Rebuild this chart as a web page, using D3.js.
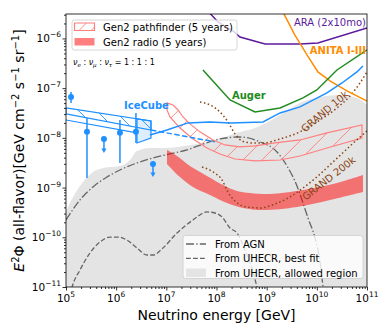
<!DOCTYPE html>
<html><head><meta charset="utf-8">
<script src="https://cdn.jsdelivr.net/npm/d3@7"></script>
<style>body{margin:0;background:#fff}text{font-family:"DejaVu Sans",sans-serif}</style>
</head><body><svg id="c" width="388" height="332"></svg>
<script>
// ---------------- data ----------------
const xDomain=[1e5,1e11];
const yDomain=[1e-11,3.1e-6];
const xMajor=[1e5,1e6,1e7,1e8,1e9,1e10,1e11];
const yMajor=[1e-11,1e-10,1e-9,1e-8,1e-7,1e-6];
const xTickExp=["5","6","7","8","9","10","11"];
const yTickExp=["−11","−10","−9","−8","−7","−6"];

const araE=[5.9e7,1.07e8,2.13e8,2.94e8,9.27e8,4.61e9,1.05e10,1e11];
const araFlux=[4.1e-6,2.15e-6,1.42e-6,1.07e-6,7.75e-7,7.75e-7,8.1e-7,1.63e-6];

const anitaE=[1.93e9,2.21e9,3.66e9,6.37e9,1.05e10,1.83e10,3.99e10,1e11];
const anitaFlux=[4.1e-6,3.11e-6,1.17e-6,4.66e-7,2.12e-7,1.4e-7,8.8e-8,5.5e-8];

const augerE=[5.38e7,8.13e7,1.86e8,5.85e8,1.85e9,5.3e9,1.0e10,2.52e10,1e11];
const augerFlux=[2.32e-7,1.46e-7,5.8e-8,3.32e-8,4.0e-8,6.35e-8,9.2e-8,2.32e-7,5.9e-7];

const icLimE=[4.72e6,1.03e7,2.70e7,7.41e7,1.86e8,8.45e8,1.85e9,4.61e9,1.59e10,3.17e10,6.31e10,8.31e10];
const icLimFlux=[1.14e-8,1.44e-8,2.0e-8,2.09e-8,2.0e-8,2.09e-8,3.17e-8,4.19e-8,8.0e-8,1.27e-7,2.12e-7,2.8e-7];

const icExtrapE=[4.94e6,9.33e7];
const icExtrapFlux=[1.44e-8,8.3e-9];

const icBandE=[1e5,4.94e6];
const icBandHi=[4.0e-8,2.19e-8];
const icBandMid=[3.03e-8,1.44e-8];
const icBandLoE=[1e5,2.6e6];
const icBandLo=[2.29e-8,1.26e-8];
const icBoxE=[2.6e6,4.94e6,4.94e6,2.6e6];
const icBoxFlux=[2.41e-8,2.19e-8,9.95e-9,7.9e-9];

const icPtE=[1.26e5,2.62e5,1.19e6,2.48e6];
const icPtFlux=[6.65e-8,1.32e-8,1.26e-8,1.32e-8];
const icPtHi=[8.4e-8,2.51e-8,2.29e-8,3.17e-8];
const icPtLo=[5.03e-8,1.56e-9,3.13e-9,7.9e-9];
const icUlE=[5.71e5,5.42e6];
const icUlFlux=[9.5e-9,2.99e-9];
const icUlEnd=[4.97e-9,1.63e-9];

const uhecrRegE=[1e5,1.38e5,2.18e5,3.45e5,5.46e5,1.19e6,1.89e6,2.6e6,4.72e6,9.4e6,2.96e7,1.02e8,2.56e8,5.85e8,1.16e9,2.32e9,4.61e9,1.16e10,2.89e10,6.31e10,1e11];
const uhecrRegFlux=[3.23e-10,6.47e-10,1.30e-9,2.06e-9,2.48e-9,2.72e-9,3.59e-9,5.45e-9,6.26e-9,6.26e-9,7.2e-9,9.07e-9,1.26e-8,1.58e-8,2.19e-8,3.32e-8,5.04e-8,6.65e-8,7.3e-8,6.35e-8,4.59e-8];

const agnE=[1e5,1.90e5,3.45e5,6.56e5,1.19e6,2.6e6,5.42e6,1.18e7,2.58e7,5.38e7,1.17e8,2.94e8,7.36e8,1.61e9,2.54e9,4.02e9,5.3e9,6.67e9,9.2e9,1.16e10,1.33e10,1.42e10];
const agnFlux=[2.23e-10,5.64e-10,1.03e-9,1.63e-9,2.26e-9,3.13e-9,3.94e-9,4.74e-9,5.71e-9,7.5e-9,9.5e-9,1.04e-8,8.3e-9,5.2e-9,2.72e-9,1.08e-9,4.9e-10,2.44e-10,9.7e-11,3.18e-11,1e-11,5.5e-12];

const bestFitE=[1.2e5,1.32e5,1.90e5,3.0e5,4.76e5,7.54e5,1.09e6,1.64e6,2.6e6,4.12e6,5.42e6,8.57e6,1.63e7,3.40e7,6.46e7,9.33e7,1.29e8,1.86e8,2.56e8,3.70e8,5.1e8,6.41e8,7.0e8];
const bestFitFlux=[6.9e-12,1e-11,2.2e-11,4.83e-11,8.04e-11,1.01e-10,1.01e-10,8.8e-11,6.1e-11,4.4e-11,4.4e-11,6.1e-11,1.22e-10,2.23e-10,3.23e-10,3.08e-10,2.56e-10,1.54e-10,1.22e-10,5.5e-11,2.4e-11,1e-11,7e-12];

const pfTopE=[1.03e7,1.36e7,1.71e7,2.15e7,2.96e7,4.69e7,8.51e7,1.48e8,2.94e8,5.85e8,1.47e9,4.61e9,1.59e10,7.94e10];
const pfTopFlux=[5.04e-8,4.59e-8,3.64e-8,2.63e-8,1.91e-8,1.32e-8,9.07e-9,7.2e-9,6.56e-9,6.87e-9,7.9e-9,9.07e-9,1.26e-8,1.82e-8];
const pfBotE=[1.03e7,1.18e7,1.87e7,3.40e7,6.46e7,1.17e8,2.34e8,5.85e8,1.85e9,4.61e9,1.59e10,7.94e10];
const pfBotFlux=[3.64e-8,2.63e-8,1.58e-8,9.5e-9,6.26e-9,4.74e-9,3.76e-9,3.43e-9,3.59e-9,4.32e-9,6.26e-9,9.95e-9];

const radioTopE=[1.03e7,1.63e7,2.96e7,6.46e7,1.35e8,2.56e8,4.66e8,1.16e9,5.3e9,2.52e10,8.31e10];
const radioTopFlux=[5.71e-9,4.32e-9,2.72e-9,1.71e-9,1.13e-9,8.55e-10,7.79e-10,7.43e-10,8.95e-10,1.24e-9,1.79e-9];
const radioBotE=[1.03e7,1.87e7,3.40e7,7.41e7,1.62e8,3.37e8,8.45e8,4.02e9,1.83e10,8.31e10];
const radioBotFlux=[2.99e-9,1.63e-9,1.03e-9,7.1e-10,4.9e-10,3.89e-10,3.54e-10,4.07e-10,5.64e-10,8.15e-10];

const grand10kE=[4.69e7,7.41e7,1.17e8,1.69e8,2.34e8,3.22e8,5.1e8,8.45e8,1.85e9,4.61e9,1.16e10,2.52e10,4.58e10,7.24e10,1e11];
const grand10kFlux=[5.27e-8,4.59e-8,3.32e-8,2.09e-8,1.20e-8,8.67e-9,7.9e-9,7.9e-9,9.5e-9,1.32e-8,2.29e-8,4.0e-8,6.97e-8,1.27e-7,2.12e-7];
const grand200kE=[5.14e7,8.51e7,1.29e8,1.69e8,2.44e8,4.06e8,7.36e8,1.47e9,2.92e9,5.3e9,1.05e10,2.1e10,4.18e10,7.24e10,1e11];
const grand200kFlux=[2.6e-9,2.06e-9,1.42e-9,8.15e-10,5.13e-10,4.07e-10,3.89e-10,4.68e-10,6.47e-10,9.8e-10,1.71e-9,3.27e-9,6.26e-9,1.04e-8,1.38e-8];

// ---------------- drawing ----------------
const M={l:66,t:14,r:367,b:287};
const svg=d3.select("#c");
const x=d3.scaleLog().domain(xDomain).range([M.l,M.r]);
const y=d3.scaleLog().domain(yDomain).range([M.b,M.t]);
const zip=(E,F)=>E.map((e,i)=>[e,F[i]]);
const line=(c)=>d3.line().x(d=>x(d[0])).y(d=>y(d[1])).curve(c||d3.curveLinear);
const RED_LIGHT="#ff7f7f";
const ic="#1e90ff";

const defs=svg.append("defs");
defs.append("clipPath").attr("id","clip").append("rect")
  .attr("x",M.l).attr("y",M.t).attr("width",M.r-M.l).attr("height",M.b-M.t);

function band(tE,tF,bE,bF,curve){
  const top=line(curve)(zip(tE,tF));
  const bot=line(curve)(zip(bE,bF).reverse());
  return top+"L"+bot.slice(1)+"Z";
}
// hatch: diagonal lines clipped to a shape
function hatch(parent,id,d,x0,x1,y0,y1,step,dir,color){
  defs.append("clipPath").attr("id",id).append("path").attr("d",d);
  const hg=parent.append("g").attr("clip-path",`url(#${id})`);
  const h=y1-y0;
  for(let s=x0-h;s<=x1+h;s+=step){
    const xa=s, xb=s+(dir>0?h:-h);
    hg.append("line").attr("x1",xa).attr("y1",y1).attr("x2",xb).attr("y2",y0)
      .attr("stroke",color).attr("stroke-width",0.9);
  }
}

const g=svg.append("g").attr("clip-path","url(#clip)");

// UHECR allowed region
g.append("path").datum(zip(uhecrRegE,uhecrRegFlux))
  .attr("d",d3.area().x(d=>x(d[0])).y0(y(yDomain[0])).y1(d=>y(d[1])).curve(d3.curveMonotoneX))
  .attr("fill","#e4e4e4");

// AGN & UHECR best fit
g.append("path").datum(zip(agnE,agnFlux)).attr("d",line(d3.curveMonotoneX))
  .attr("fill","none").attr("stroke","#666").attr("stroke-width",1.3).attr("stroke-dasharray","8,2.2,1.4,2.2");
g.append("path").datum(zip(bestFitE,bestFitFlux)).attr("d",line(d3.curveMonotoneX))
  .attr("fill","none").attr("stroke","#666").attr("stroke-width",1.3).attr("stroke-dasharray","4.8,2.2");

// Gen2 radio
g.append("path").attr("d",band(radioTopE,radioTopFlux,radioBotE,radioBotFlux,d3.curveCatmullRom))
  .attr("fill","red").attr("fill-opacity",0.5).attr("stroke","none");
// Gen2 pathfinder
const pfPath=band(pfTopE,pfTopFlux,pfBotE,pfBotFlux);
hatch(g,"pfClip",pfPath,x(pfTopE[0]),x(pfTopE[pfTopE.length-1]),y(pfTopFlux[0]),y(pfBotFlux[pfBotFlux.length-1])+30,19,1,RED_LIGHT);
g.append("path").attr("d",pfPath).attr("fill","none").attr("stroke",RED_LIGHT).attr("stroke-width",1.2);

// GRAND
[[grand10kE,grand10kFlux],[grand200kE,grand200kFlux]].forEach(([E,F])=>{
  g.append("path").datum(zip(E,F)).attr("d",line(d3.curveMonotoneX))
   .attr("fill","none").attr("stroke","#8b4513").attr("stroke-width",1.5)
   .attr("stroke-dasharray","1.5,2.5");
});

// ARA, ANITA, Auger, IceCube limit
[[araE,araFlux,"#5c1a9c"],[anitaE,anitaFlux,"#ff8c00"],[augerE,augerFlux,"#228b22"],[icLimE,icLimFlux,ic]].forEach(([E,F,c])=>{
  g.append("path").datum(zip(E,F)).attr("d",line())
   .attr("fill","none").attr("stroke",c).attr("stroke-width",1.5);
});

// IceCube band
g.append("path").datum(zip(icBoxE,icBoxFlux)).attr("d",d=>line()(d)+"Z")
  .attr("fill",ic).attr("fill-opacity",0.15).attr("stroke",ic).attr("stroke-width",1.2);
const icPath=band(icBandE,icBandHi,icBandE,icBandMid);
hatch(g,"icClip",icPath,x(icBandE[0]),x(icBandE[1]),y(icBandHi[0]),y(icBandMid[1]),18,-1,ic);
g.append("path").attr("d",icPath).attr("fill","none").attr("stroke",ic).attr("stroke-width",1.2);
g.append("path").datum(zip(icBandLoE,icBandLo)).attr("d",line())
  .attr("fill","none").attr("stroke",ic).attr("stroke-width",1.2);
g.append("path").datum(zip(icExtrapE,icExtrapFlux)).attr("d",line())
  .attr("fill","none").attr("stroke",ic).attr("stroke-width",1.5).attr("stroke-dasharray","5.5,2.4");

// IceCube points
icPtE.forEach((e,i)=>{
  g.append("line").attr("x1",x(e)).attr("x2",x(e)).attr("y1",y(icPtHi[i])).attr("y2",y(icPtLo[i]))
   .attr("stroke",ic).attr("stroke-width",1.5);
  g.append("circle").attr("cx",x(e)).attr("cy",y(icPtFlux[i])).attr("r",3).attr("fill",ic);
});
icUlE.forEach((e,i)=>{
  const cx=x(e),cy=y(icUlFlux[i]),ey=y(icUlEnd[i]);
  g.append("line").attr("x1",cx).attr("x2",cx).attr("y1",cy).attr("y2",ey-2).attr("stroke",ic).attr("stroke-width",1.5);
  g.append("path").attr("d",`M${cx-2.6},${ey-4.5}L${cx+2.6},${ey-4.5}L${cx},${ey}Z`).attr("fill",ic);
  g.append("circle").attr("cx",cx).attr("cy",cy).attr("r",3).attr("fill",ic);
});

// ---------------- axes ----------------
function minors(dom){
  const out=[];const a=Math.floor(Math.log10(dom[0])),b=Math.ceil(Math.log10(dom[1]));
  for(let p=a;p<b;p++)for(let m=2;m<10;m++){const v=m*Math.pow(10,p);if(v>=dom[0]&&v<=dom[1])out.push(v);}
  return out;
}
svg.append("g").attr("transform",`translate(0,${M.b})`)
  .call(d3.axisBottom(x).tickValues(minors(xDomain)).tickSize(2).tickFormat(""));
svg.append("g").attr("transform",`translate(0,${M.b})`)
  .call(d3.axisBottom(x).tickValues(xMajor).tickSize(3.5).tickFormat(""));
svg.append("g").attr("transform",`translate(${M.l},0)`)
  .call(d3.axisLeft(y).tickValues(minors(yDomain)).tickSize(2).tickFormat(""));
svg.append("g").attr("transform",`translate(${M.l},0)`)
  .call(d3.axisLeft(y).tickValues(yMajor).tickSize(3.5).tickFormat(""));
svg.selectAll(".domain").remove();
svg.selectAll(".tick line").attr("stroke","#000").attr("stroke-width",0.8);

// tick labels
xMajor.forEach((v,i)=>{
  const t=svg.append("text").attr("x",x(v)).attr("y",302).attr("text-anchor","middle").attr("font-size",10.5);
  t.append("tspan").text("10");
  t.append("tspan").attr("dy",-5).attr("font-size",7.5).text(xTickExp[i]);
});
yMajor.forEach((v,i)=>{
  const t=svg.append("text").attr("x",61).attr("y",y(v)+4).attr("text-anchor","end").attr("font-size",10.5);
  t.append("tspan").text("10");
  t.append("tspan").attr("dy",-5).attr("font-size",7.5).text(yTickExp[i]);
});

// frame
svg.append("rect").attr("x",M.l).attr("y",M.t).attr("width",M.r-M.l).attr("height",M.b-M.t)
  .attr("fill","none").attr("stroke","#000").attr("stroke-width",0.8);

// axis titles
svg.append("text").attr("x",(M.l+M.r)/2).attr("y",320).attr("text-anchor","middle").attr("font-size",14)
  .text("Neutrino energy [GeV]");
const yl=svg.append("text").attr("transform",`translate(24,${(M.t+M.b)/2}) rotate(-90)`)
  .attr("text-anchor","middle").attr("font-size",14);
yl.append("tspan").attr("font-style","italic").text("E");
yl.append("tspan").attr("dy",-5).attr("font-size",10).text("2");
yl.append("tspan").attr("dy",5).text("Φ (all-flavor)[GeV cm");
yl.append("tspan").attr("dy",-5).attr("font-size",10).text("−2");
yl.append("tspan").attr("dy",5).text(" s");
yl.append("tspan").attr("dy",-5).attr("font-size",10).text("−1");
yl.append("tspan").attr("dy",5).text(" sr");
yl.append("tspan").attr("dy",-5).attr("font-size",10).text("−1");
yl.append("tspan").attr("dy",5).text("]");

// in-plot labels
svg.append("text").attr("x",366).attr("y",26).attr("text-anchor","end").attr("font-size",10).attr("fill","#5c1a9c").text("ARA (2x10mo)");
svg.append("text").attr("x",366).attr("y",54).attr("text-anchor","end").attr("font-size",10).attr("font-weight","bold").attr("fill","#ff8c00").text("ANITA I-III");
svg.append("text").attr("x",232).attr("y",99).attr("font-size",10).attr("font-weight","bold").attr("fill","#228b22").text("Auger");
svg.append("text").attr("x",124).attr("y",109).attr("font-size",10).attr("font-weight","bold").attr("fill",ic).text("IceCube");
svg.append("text").attr("transform","translate(327,114) rotate(-40)").attr("text-anchor","middle").attr("font-size",10).attr("fill","#8b4513").text("GRAND 10k");
svg.append("text").attr("transform","translate(331,181) rotate(-38)").attr("text-anchor","middle").attr("font-size",10).attr("fill","#8b4513").text("GRAND 200k");

// flavor ratio text
const nt=svg.append("text").attr("x",73).attr("y",65).attr("font-size",8);
[["ν","e"," : "],["ν","μ"," : "],["ν","τ"," = 1 : 1 : 1"]].forEach(([a,s,r])=>{
  nt.append("tspan").attr("font-style","italic").text(a);
  nt.append("tspan").attr("dy",2).attr("font-size",5.5).attr("font-style","italic").text(s);
  nt.append("tspan").attr("dy",-2).text(r);
});

// legend 1
const L1=svg.append("g");
L1.append("rect").attr("x",72).attr("y",20).attr("width",165).attr("height",30).attr("rx",2.5)
  .attr("fill","#fff").attr("fill-opacity",0.8).attr("stroke","#ccc").attr("stroke-width",0.8);
const lp="M74.5,23H94.5V30.5H74.5Z";
hatch(L1,"lgClip",lp,74.5,94.5,23,30.5,12,1,RED_LIGHT);
L1.append("path").attr("d",lp).attr("fill","none").attr("stroke",RED_LIGHT).attr("stroke-width",1.2);
L1.append("text").attr("x",103).attr("y",31).attr("font-size",10).text("Gen2 pathfinder (5 years)");
L1.append("rect").attr("x",74.5).attr("y",38).attr("width",20).attr("height",7.5)
  .attr("fill","red").attr("fill-opacity",0.5);
L1.append("text").attr("x",103).attr("y",45.5).attr("font-size",10).text("Gen2 radio (5 years)");

// legend 2
const L2=svg.append("g");
L2.append("rect").attr("x",183).attr("y",235.5).attr("width",180).attr("height",43).attr("rx",2.5)
  .attr("fill","#fff").attr("fill-opacity",0.8).attr("stroke","#ccc").attr("stroke-width",0.8);
L2.append("line").attr("x1",186).attr("x2",206).attr("y1",244).attr("y2",244)
  .attr("stroke","#666").attr("stroke-width",1.3).attr("stroke-dasharray","8,2.2,1.4,2.2");
L2.append("text").attr("x",215).attr("y",247.5).attr("font-size",10).text("From AGN");
L2.append("line").attr("x1",186).attr("x2",206).attr("y1",258.3).attr("y2",258.3)
  .attr("stroke","#666").attr("stroke-width",1.3).attr("stroke-dasharray","4.8,2.2");
L2.append("text").attr("x",215).attr("y",262).attr("font-size",10).text("From UHECR, best fit");
L2.append("rect").attr("x",186).attr("y",268.5).attr("width",20).attr("height",8.5).attr("fill","#e4e4e4");
L2.append("text").attr("x",215).attr("y",276.5).attr("font-size",10).text("From UHECR, allowed region");
</script></body></html>
